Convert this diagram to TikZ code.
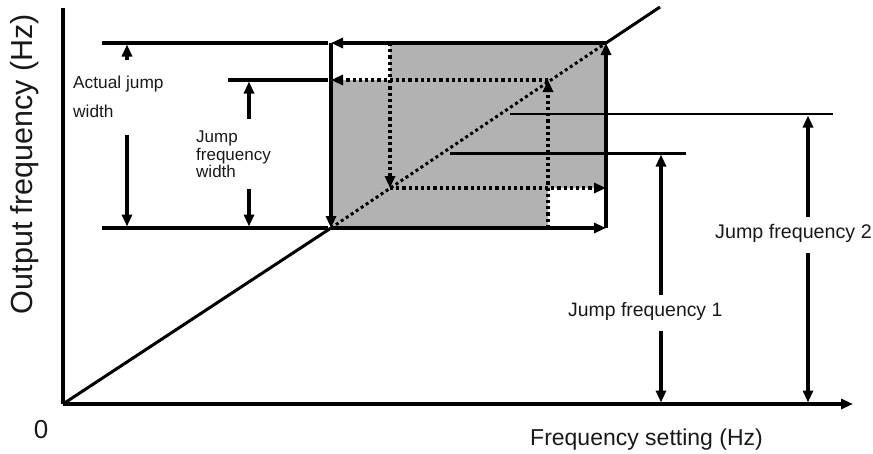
\documentclass[tikz,border=0pt]{standalone}
\usepackage{fontspec}
\setmainfont{Liberation Sans}
\usetikzlibrary{arrows.meta}
\tikzset{
  tip/.tip={Triangle[length=12pt,width=10pt]},
  thickline/.style={line width=3.4pt},
  dotline/.style={line width=3.4pt, dash pattern=on 3.2pt off 3pt},
  diagdot/.style={line width=3pt, dash pattern=on 3pt off 3pt},
  label/.style={inner sep=0pt, anchor=base west, text=black!90},
}
\begin{document}
\begin{tikzpicture}[x=1pt,y=-1pt]
\useasboundingbox (0,0) rectangle (873,453);
% key coordinates
\coordinate (O) at (63,404);
\coordinate (Ytop) at (63,8);
\coordinate (Xend) at (853,404);
\coordinate (A) at (331,228);  % lower-left of jump box
\coordinate (B) at (606,43);   % upper-right of jump box
\coordinate (TL) at (331,43);
\coordinate (BR) at (606,228);
\coordinate (Dend) at (660,7);
\coordinate (P) at (548,80);   % dotted up-arrow end
\coordinate (PL) at (331,80);
\coordinate (PB) at (548,228);
\coordinate (Q) at (390,188);  % dotted down-arrow end
\coordinate (QT) at (390,43);
\coordinate (QR) at (606,188);
% gray region
\fill[gray!60] (TL) -- (A) -- (PB) -- (548,188) -- (QR) -- (B) -- (QT) -- (390,80) -- (PL) -- cycle;
% axes
\draw[thickline] (Ytop) -- (O);
\draw[thickline, -{tip}] (O) -- (Xend);
% diagonal
\draw[line width=3pt] (O) -- (A);
\draw[diagdot] (A) -- (B);
\draw[line width=3pt] (B) -- (Dend);
% box arrows
\draw[thickline, -{tip}] (B) -- (TL);
\draw[thickline, -{tip}] (TL) -- (A);
\draw[thickline, -{tip}] (A) -- (BR);
\draw[thickline, -{tip}] (BR) -- (B);
% dotted arrows
\draw[dotline, -{tip}] (PB) -- (P);
\draw[dotline, -{tip}] (P) -- (PL);
\draw[dotline, -{tip}] (QT) -- (Q);
\draw[dotline, -{tip}] (Q) -- (QR);
% extension lines
\coordinate (E1) at (102,43);
\coordinate (E1r) at (328,43);
\coordinate (E2) at (102,228);
\coordinate (E2r) at (328,228);
\coordinate (E3) at (228,80);
\coordinate (E3r) at (328,80);
\draw[thickline] (E1) -- (E1r);
\draw[thickline] (E2) -- (E2r);
\draw[thickline] (E3) -- (E3r);
% jump frequency lines
\coordinate (J1a) at (450,153);
\coordinate (J1b) at (686,153);
\coordinate (J2a) at (510,114);
\coordinate (J2b) at (833,114);
\draw[line width=3pt] (J1a) -- (J1b);
\draw[line width=2.5pt] (J2a) -- (J2b);
% dimension arrows: actual jump width
\draw[thickline, -{tip}] (127,60) -- (127,44.5);
\draw[thickline, -{tip}] (127,135) -- (127,226.5);
% jump frequency width
\draw[thickline, -{tip}] (249,119) -- (249,81.5);
\draw[thickline, -{tip}] (249,189) -- (249,226.5);
% jump frequency 1
\draw[thickline, -{tip}] (661,295) -- (661,154.5);
\draw[thickline, -{tip}] (661,331) -- (661,402.5);
% jump frequency 2
\draw[thickline, -{tip}] (808,217) -- (808,115.5);
\draw[thickline, -{tip}] (808,253) -- (808,402.5);
% texts
\node[inner sep=0pt, rotate=90, font=\fontsize{30.5}{30.5}\selectfont, text=black!90] (ylab) at (25,164) {Output frequency (Hz)};
\node[inner sep=0pt, font=\fontsize{26}{26}\selectfont, text=black!90] (zero) at (41,430) {0};
\node[label, font=\fontsize{23}{23}\selectfont] (xlab) at (530,445) {Frequency setting (Hz)};
\node[label, font=\fontsize{19.4}{19.4}\selectfont] (jf1) at (568,316) {Jump frequency 1};
\node[label, font=\fontsize{19.7}{19.7}\selectfont] (jf2) at (715,238) {Jump frequency 2};
\node[label, font=\fontsize{17.3}{17.3}\selectfont] (aj1) at (73,88) {Actual jump};
\node[label, font=\fontsize{17.3}{17.3}\selectfont] (aj2) at (73,117) {width};
\node[label, font=\fontsize{17}{17}\selectfont] (jw1) at (196,142) {Jump};
\node[label, font=\fontsize{17}{17}\selectfont] (jw2) at (196,160) {frequency};
\node[label, font=\fontsize{17}{17}\selectfont] (jw3) at (196,177.5) {width};
\end{tikzpicture}
\end{document}
